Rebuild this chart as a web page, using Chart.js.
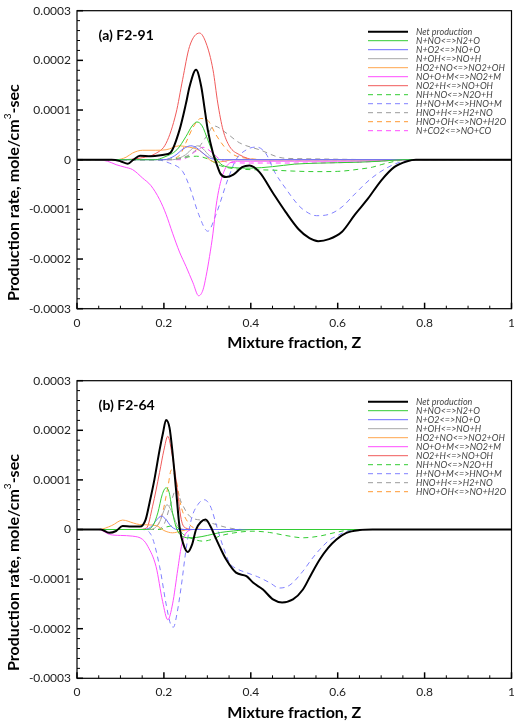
<!DOCTYPE html>
<html>
<head>
<meta charset="utf-8">
<script src="https://cdn.jsdelivr.net/npm/chart.js@4.4.1/dist/chart.umd.min.js"></script>
<style>
  body { margin: 0; background: #fff; }
  .panel { position: absolute; left: 0; width: 514px; height: 361px; }
</style>
</head>
<body>
<div class="panel" style="top:0"><canvas id="chartA"></canvas></div>
<div class="panel" style="top:361px"><canvas id="chartB"></canvas></div>
<script>
// production rates below are in units of 1e-4 mole/cm3-sec
const UNIT = 1e-4;

// ---- (a) F2-91 ----
const zNetA = [0, 0.08, 0.1, 0.117, 0.13, 0.145, 0.17, 0.2, 0.215, 0.236, 0.251, 0.259, 0.274, 0.286, 0.293, 0.301, 0.313, 0.32, 0.33, 0.343, 0.36, 0.38, 0.397, 0.42, 0.451, 0.48, 0.51, 0.535, 0.555, 0.58, 0.61, 0.64, 0.67, 0.7, 0.73, 0.76, 0.78, 1];
const netA  = [0, 0, -0.03, -0.08, 0, 0.08, 0.07, 0.1, 0.14, 0.6, 1.14, 1.47, 1.81, 1.47, 1.07, 0.6, 0.13, -0.05, -0.28, -0.35, -0.3, -0.15, -0.115, -0.25, -0.67, -1.05, -1.4, -1.58, -1.64, -1.6, -1.45, -1.1, -0.78, -0.42, -0.15, -0.03, 0, 0];

const zN_NO_A = [0, 0.18, 0.2, 0.23, 0.251, 0.265, 0.276, 0.288, 0.301, 0.315, 0.33, 0.35, 0.4, 0.45, 0.5, 0.55, 0.6, 0.65, 0.7, 0.75, 1];
const n_noA   = [0, 0, 0.05, 0.2, 0.47, 0.68, 0.76, 0.68, 0.4, 0.1, -0.08, -0.15, -0.17, -0.14, -0.09, -0.07, -0.06, -0.05, -0.03, 0, 0];

const zN_O2_A = [0, 0.2, 0.225, 0.245, 0.262, 0.275, 0.29, 0.31, 0.34, 1];
const n_o2A   = [0, 0, 0.08, 0.22, 0.28, 0.24, 0.13, 0.02, 0, 0];

const zN_OH_A = [0, 0.22, 0.25, 0.265, 0.278, 0.29, 0.305, 0.33, 1];
const n_ohA   = [0, 0, 0.1, 0.22, 0.28, 0.22, 0.08, 0, 0];

const zHO2_NO_A = [0, 0.09, 0.113, 0.128, 0.151, 0.18, 0.205, 0.236, 0.259, 0.274, 0.29, 0.305, 0.32, 0.34, 0.36, 1];
const ho2_noA   = [0, 0, 0.05, 0.135, 0.19, 0.19, 0.2, 0.28, 0.25, 0.22, 0.135, 0, -0.05, -0.03, 0, 0];

const zNO_O_M_A = [0, 0.04, 0.07, 0.09, 0.11, 0.128, 0.151, 0.17, 0.19, 0.205, 0.22, 0.236, 0.251, 0.267, 0.28, 0.29, 0.297, 0.305, 0.313, 0.32, 0.328, 0.34, 0.351, 0.37, 0.4, 0.5, 0.6, 0.7, 0.75, 1];
const no_o_mA   = [0, 0, -0.03, -0.1, -0.15, -0.2, -0.37, -0.52, -0.8, -1.1, -1.48, -1.86, -2.15, -2.48, -2.74, -2.62, -2.35, -1.95, -1.48, -0.94, -0.54, -0.2, -0.07, -0.03, -0.03, -0.03, -0.03, -0.02, 0, 0];

const zNO2_H_A = [0, 0.1, 0.15, 0.18, 0.205, 0.228, 0.243, 0.259, 0.282, 0.297, 0.313, 0.324, 0.336, 0.351, 0.374, 0.41, 1];
const no2_hA   = [0, 0, 0.04, 0.12, 0.33, 0.94, 1.61, 2.28, 2.55, 2.35, 1.81, 1.14, 0.6, 0.27, 0.1, 0, 0];

const zNH_NO_A = [0, 0.2, 0.25, 0.275, 0.3, 0.33, 0.36, 0.4, 0.45, 0.5, 0.55, 0.6, 0.65, 0.68, 0.7, 0.73, 0.76, 1];
const nh_noA   = [0, 0, 0.05, 0.07, 0.02, -0.12, -0.18, -0.2, -0.21, -0.23, -0.24, -0.235, -0.19, -0.15, -0.1, -0.035, 0, 0];

const zH_NO_M_A = [0, 0.18, 0.213, 0.243, 0.259, 0.28, 0.301, 0.32, 0.347, 0.366, 0.39, 0.413, 0.435, 0.455, 0.482, 0.505, 0.52, 0.551, 0.58, 0.61, 0.635, 0.674, 0.712, 0.743, 0.77, 1];
const h_no_mA   = [0, 0, -0.07, -0.235, -0.54, -1.1, -1.44, -1.1, -0.4, 0, 0.2, 0.255, 0.12, -0.25, -0.6, -0.87, -1.0, -1.127, -1.1, -0.95, -0.73, -0.4, -0.17, -0.05, 0, 0];

const zHNO_H_A = [0, 0.22, 0.259, 0.282, 0.3, 0.315, 0.343, 0.374, 0.42, 0.474, 0.52, 0.6, 0.7, 1];
const hno_hA   = [0, 0, 0.1, 0.27, 0.5, 0.68, 0.54, 0.34, 0.2, 0.034, 0.02, 0.01, 0, 0];

const zHNO_OH_A = [0, 0.2, 0.235, 0.251, 0.267, 0.285, 0.3, 0.32, 0.34, 0.36, 0.4, 0.45, 1];
const hno_ohA   = [0, 0, 0.08, 0.35, 0.65, 0.83, 0.8, 0.5, 0.25, 0.1, 0.02, 0, 0];

const zN_CO2_A = [0, 0.24, 0.27, 0.29, 0.31, 0.33, 0.36, 0.4, 0.5, 0.6, 0.7, 0.75, 1];
const n_co2A   = [0, 0, 0.15, 0.25, 0.15, 0, -0.06, -0.067, -0.067, -0.06, -0.03, 0, 0];

// ---- (b) F2-64 ----
const zNetB = [0, 0.055, 0.074, 0.09, 0.105, 0.125, 0.145, 0.158, 0.167, 0.178, 0.19, 0.198, 0.205, 0.213, 0.22, 0.228, 0.236, 0.245, 0.255, 0.265, 0.274, 0.285, 0.296, 0.308, 0.318, 0.328, 0.343, 0.366, 0.39, 0.405, 0.428, 0.451, 0.472, 0.497, 0.52, 0.539, 0.559, 0.578, 0.597, 0.62, 0.651, 0.68, 1];
const netB  = [0, 0, -0.067, -0.03, 0.07, 0.06, 0.06, 0.2, 0.54, 1.0, 1.6, 1.95, 2.21, 2.05, 1.54, 0.8, 0.05, -0.3, -0.455, -0.3, 0, 0.15, 0.2, 0.05, -0.15, -0.34, -0.6, -0.87, -0.94, -1.07, -1.21, -1.41, -1.47, -1.41, -1.21, -0.905, -0.6, -0.37, -0.2, -0.067, -0.01, 0, 0];

const zN_NO_B = [0, 0.16, 0.175, 0.186, 0.196, 0.205, 0.212, 0.22, 0.23, 0.24, 0.255, 0.275, 0.3, 0.33, 0.36, 0.4, 1];
const n_noB   = [0, 0, 0.08, 0.335, 0.7, 0.84, 0.75, 0.335, 0, -0.12, -0.167, -0.16, -0.12, -0.06, -0.03, 0, 0];

const zN_O2_B = [0, 0.15, 0.17, 0.184, 0.194, 0.205, 0.215, 0.23, 0.26, 1];
const n_o2B   = [0, 0, 0.05, 0.2, 0.27, 0.2, 0.08, 0, 0, 0];

const zN_OH_B = [0, 0.17, 0.19, 0.2, 0.207, 0.217, 0.23, 0.25, 1];
const n_ohB   = [0, 0, 0.15, 0.38, 0.5, 0.38, 0.1, 0, 0];

const zHO2_NO_B = [0, 0.05, 0.08, 0.105, 0.13, 0.144, 0.182, 0.2, 0.22, 0.24, 0.26, 1];
const ho2_noB   = [0, 0, 0.08, 0.19, 0.13, 0.1, 0.08, -0.02, -0.067, -0.03, 0, 0];

const zNO_O_M_B = [0, 0.05, 0.075, 0.1, 0.128, 0.151, 0.163, 0.182, 0.197, 0.209, 0.22, 0.232, 0.24, 0.251, 0.27, 1];
const no_o_mB   = [0, 0, -0.1, -0.12, -0.134, -0.2, -0.34, -0.75, -1.45, -1.82, -1.5, -0.8, -0.35, -0.07, 0, 0];

const zNO2_H_B = [0, 0.14, 0.16, 0.174, 0.19, 0.2, 0.209, 0.22, 0.228, 0.24, 0.25, 0.27, 1];
const no2_hB   = [0, 0, 0.03, 0.47, 1.15, 1.6, 1.88, 1.45, 1.0, 0.2, 0.03, 0, 0];

const zNH_NO_B = [0, 0.19, 0.205, 0.225, 0.245, 0.27, 0.29, 0.31, 0.328, 0.36, 0.405, 0.443, 0.48, 0.52, 0.56, 0.6, 0.64, 1];
const nh_noB   = [0, 0, 0.05, 0.08, -0.1, -0.2, -0.235, -0.2, -0.134, -0.07, -0.034, -0.06, -0.12, -0.167, -0.13, -0.05, 0, 0];

const zH_NO_M_B = [0, 0.15, 0.17, 0.19, 0.205, 0.215, 0.222, 0.23, 0.24, 0.251, 0.263, 0.278, 0.293, 0.308, 0.322, 0.336, 0.351, 0.37, 0.39, 0.415, 0.443, 0.466, 0.49, 0.52, 0.54, 0.559, 0.58, 0.597, 0.62, 0.645, 1];
const h_no_mB   = [0, 0, -0.1, -0.74, -1.5, -1.9, -1.97, -1.7, -1.14, -0.4, 0.2, 0.5, 0.6, 0.45, 0.05, -0.34, -0.67, -0.8, -0.87, -0.95, -1.07, -1.18, -1.12, -0.84, -0.6, -0.4, -0.22, -0.134, -0.04, 0, 0];

const zHNO_H_B = [0, 0.18, 0.2, 0.215, 0.228, 0.24, 0.259, 0.29, 0.32, 0.345, 0.38, 1];
const hno_hB   = [0, 0, 0.1, 0.5, 0.8, 0.55, 0.27, 0.18, 0.1, 0.04, 0, 0];

const zHNO_OH_B = [0, 0.17, 0.19, 0.2, 0.205, 0.21, 0.217, 0.228, 0.24, 0.255, 0.27, 0.3, 1];
const hno_ohB   = [0, 0, 0.15, 0.45, 0.67, 0.9, 1.2, 1.0, 0.45, 0.15, 0.03, 0, 0];

const reactionStyle = {
  'Net production':        { color: '#000000', width: 2 },
  'N+NO<=>N2+O':           { color: '#33cc33' },
  'N+O2<=>NO+O':           { color: '#6b6bff' },
  'N+OH<=>NO+H':           { color: '#a8a8a8' },
  'HO2+NO<=>NO2+OH':       { color: '#ffa64d' },
  'NO+O+M<=>NO2+M':        { color: '#ff4dff' },
  'NO2+H<=>NO+OH':         { color: '#f05a5a' },
  'NH+NO<=>N2O+H':         { color: '#33cc33', dash: [5, 4] },
  'H+NO+M<=>HNO+M':        { color: '#8080ff', dash: [5, 4] },
  'HNO+H<=>H2+NO':         { color: '#9a9a9a', dash: [5, 4] },
  'HNO+OH<=>NO+H2O':       { color: '#ff9933', dash: [5, 4] },
  'N+CO2<=>NO+CO':         { color: '#ff4dff', dash: [5, 4] },
};

function curve(label, zs, vals) {
  const s = reactionStyle[label];
  return {
    label,
    data: zs.map((z, i) => ({ x: z, y: vals[i] * UNIT })),
    borderColor: s.color,
    borderWidth: s.width || 1,
    borderDash: s.dash || [],
    pointRadius: 0,
    fill: false,
    cubicInterpolationMode: 'monotone',
  };
}

// Tecplot-style frame: inward ticks, axis titles, panel tag and line legend
const plotFrame = {
  id: 'plotFrame',
  afterDraw(chart, args, opts) {
    const { ctx, chartArea: a, scales: { x, y } } = chart;
    ctx.save();
    ctx.strokeStyle = '#000';

    for (let k = 0; k <= 20; k++) {
      const px = x.getPixelForValue(k * 0.05);
      const major = k % 4 === 0;
      ctx.lineWidth = major ? 1.5 : 1;
      ctx.beginPath();
      ctx.moveTo(px, a.bottom);
      ctx.lineTo(px, a.bottom - (major ? 6 : 3));
      ctx.stroke();
    }
    for (let k = -15; k <= 15; k++) {
      const py = y.getPixelForValue(k * 2e-5);
      const major = k % 5 === 0;
      ctx.lineWidth = major ? 1.5 : 1;
      ctx.beginPath();
      ctx.moveTo(a.left, py);
      ctx.lineTo(a.left + (major ? 6 : 3), py);
      ctx.stroke();
    }

    ctx.lineWidth = 1.2;
    ctx.strokeRect(a.left, a.top, a.right - a.left, a.bottom - a.top);

    // legend
    ctx.font = 'italic 9px Lato';
    ctx.textBaseline = 'middle';
    ctx.textAlign = 'left';
    chart.data.datasets.forEach((ds, i) => {
      const ly = a.top + 21 + i * 9;
      ctx.strokeStyle = ds.borderColor;
      ctx.lineWidth = ds.borderWidth;
      ctx.setLineDash(ds.borderDash);
      ctx.beginPath();
      ctx.moveTo(a.right - 143.5, ly);
      ctx.lineTo(a.right - 103.5, ly);
      ctx.stroke();
      ctx.setLineDash([]);
      ctx.fillStyle = '#444';
      ctx.fillText(ds.label, a.right - 95.5, ly);
    });

    // panel tag
    ctx.fillStyle = '#000';
    ctx.font = 'bold 14px Lato';
    ctx.fillText(opts.tag, a.left + 21.6, a.top + 24.3);

    // x title
    ctx.font = 'bold 16px Lato';
    ctx.textAlign = 'center';
    ctx.fillText('Mixture fraction, Z', (a.left + a.right) / 2, a.bottom + 34.3);

    // y title with superscript
    const parts = [
      { t: 'Production rate, mole/cm', f: 'bold 16px Lato', dy: 0 },
      { t: '3', f: '10px Lato', dy: -6 },
      { t: '-sec', f: 'bold 16px Lato', dy: 0 },
    ];
    let total = 0;
    parts.forEach(p => { ctx.font = p.f; p.w = ctx.measureText(p.t).width; total += p.w; });
    ctx.translate(13.5, (a.top + a.bottom) / 2 + 33);
    ctx.rotate(-Math.PI / 2);
    ctx.textAlign = 'left';
    let cx = -total / 2;
    parts.forEach(p => { ctx.font = p.f; ctx.fillText(p.t, cx, p.dy); cx += p.w; });
    ctx.restore();
  },
};

function makeChart(id, tag, datasets, padTop, xAxisHeight) {
  return new Chart(document.getElementById(id), {
    type: 'line',
    data: { datasets },
    options: {
      responsive: true,
      maintainAspectRatio: false,
      animation: false,
      devicePixelRatio: 1,
      layout: { padding: { top: padTop, right: 2.5, left: 0, bottom: 0 } },
      plugins: { legend: { display: false }, tooltip: { enabled: false }, plotFrame: { tag } },
      scales: {
        x: {
          type: 'linear', min: 0, max: 1,
          grid: { display: false, drawTicks: false },
          border: { display: false },
          ticks: {
            stepSize: 0.2, padding: 7, maxRotation: 0, color: '#222',
            font: { family: 'Lato', size: 12 },
            callback: v => String(+v.toFixed(2)),
          },
          afterFit: s => { s.height = xAxisHeight; s.paddingLeft = 0; s.paddingRight = 0; },
        },
        y: {
          min: -3e-4, max: 3e-4,
          grid: { display: false, drawTicks: false },
          border: { display: false },
          ticks: {
            stepSize: 1e-4, padding: 6, color: '#222',
            font: { family: 'Lato', size: 12 },
            callback: v => Math.abs(v) < 1e-12 ? '0' : v.toFixed(4),
          },
          afterFit: s => { s.width = 77; s.paddingTop = 0; s.paddingBottom = 0; },
        },
      },
    },
    plugins: [plotFrame],
  });
}

makeChart('chartA', '(a) F2-91', [
  curve('Net production', zNetA, netA),
  curve('N+NO<=>N2+O', zN_NO_A, n_noA),
  curve('N+O2<=>NO+O', zN_O2_A, n_o2A),
  curve('N+OH<=>NO+H', zN_OH_A, n_ohA),
  curve('HO2+NO<=>NO2+OH', zHO2_NO_A, ho2_noA),
  curve('NO+O+M<=>NO2+M', zNO_O_M_A, no_o_mA),
  curve('NO2+H<=>NO+OH', zNO2_H_A, no2_hA),
  curve('NH+NO<=>N2O+H', zNH_NO_A, nh_noA),
  curve('H+NO+M<=>HNO+M', zH_NO_M_A, h_no_mA),
  curve('HNO+H<=>H2+NO', zHNO_H_A, hno_hA),
  curve('HNO+OH<=>NO+H2O', zHNO_OH_A, hno_ohA),
  curve('N+CO2<=>NO+CO', zN_CO2_A, n_co2A),
], 10.7, 52.3);

makeChart('chartB', '(b) F2-64', [
  curve('Net production', zNetB, netB),
  curve('N+NO<=>N2+O', zN_NO_B, n_noB),
  curve('N+O2<=>NO+O', zN_O2_B, n_o2B),
  curve('N+OH<=>NO+H', zN_OH_B, n_ohB),
  curve('HO2+NO<=>NO2+OH', zHO2_NO_B, ho2_noB),
  curve('NO+O+M<=>NO2+M', zNO_O_M_B, no_o_mB),
  curve('NO2+H<=>NO+OH', zNO2_H_B, no2_hB),
  curve('NH+NO<=>N2O+H', zNH_NO_B, nh_noB),
  curve('H+NO+M<=>HNO+M', zH_NO_M_B, h_no_mB),
  curve('HNO+H<=>H2+NO', zHNO_H_B, hno_hB),
  curve('HNO+OH<=>NO+H2O', zHNO_OH_B, hno_ohB),
], 19.7, 43.7);
</script>
</body>
</html>
